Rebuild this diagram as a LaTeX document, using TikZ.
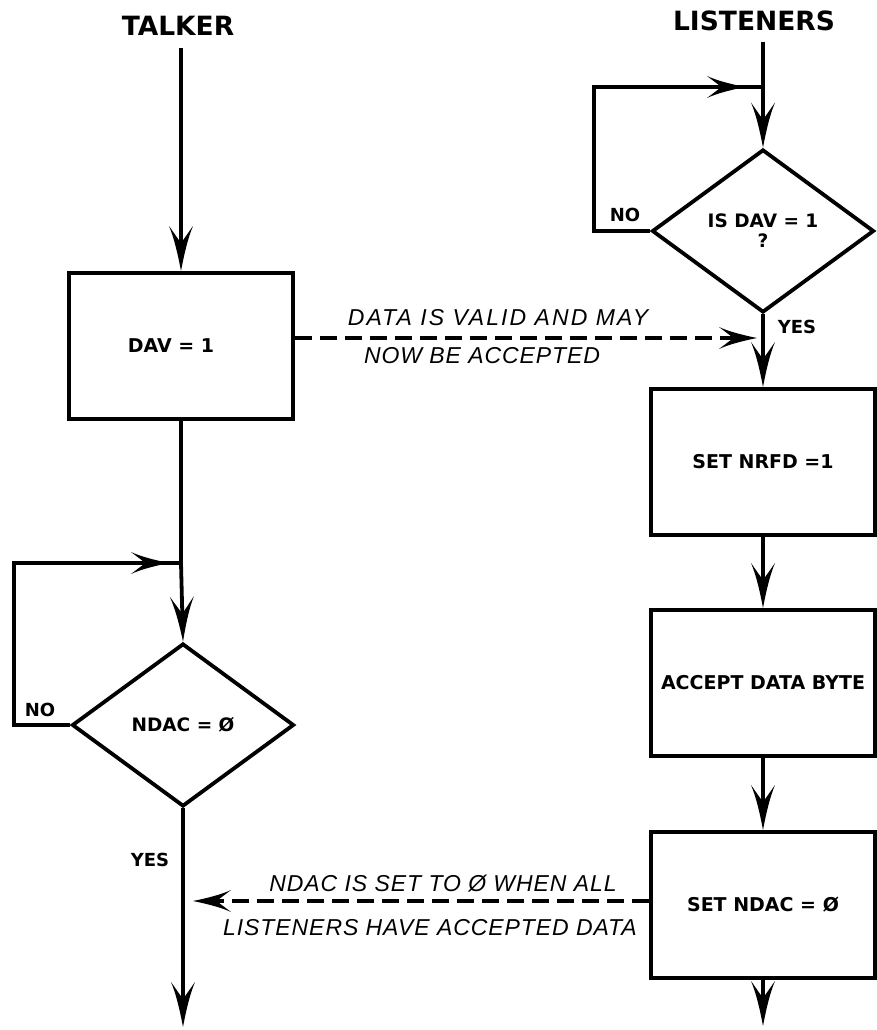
\documentclass[tikz,border=0pt]{standalone}
\usepackage{fontspec}
\usetikzlibrary{arrows.meta,shapes.geometric,decorations.markings}
\setmainfont{DejaVu Sans}
\newfontfamily\notefont{Liberation Sans}

% Long arrow head with concave flanks and a notched back
\pgfdeclarearrow{
  name = Spear,
  parameters = {\the\pgfarrowlength,\the\pgfarrowwidth},
  setup code = {
    \pgfarrowssettipend{0pt}
    \pgfarrowssetlineend{-.5\pgfarrowlength}
    \pgfarrowssetbackend{-\pgfarrowlength}
    \pgfarrowshullpoint{0pt}{0pt}
    \pgfarrowsupperhullpoint{-\pgfarrowlength}{.5\pgfarrowwidth}
    \pgfarrowssavethe\pgfarrowlength
    \pgfarrowssavethe\pgfarrowwidth
  },
  drawing code = {
    \pgfpathmoveto{\pgfpointorigin}
    \pgfpathcurveto{\pgfpoint{-.4\pgfarrowlength}{.14\pgfarrowwidth}}
                   {\pgfpoint{-.75\pgfarrowlength}{.3\pgfarrowwidth}}
                   {\pgfpoint{-\pgfarrowlength}{.5\pgfarrowwidth}}
    \pgfpathlineto{\pgfpoint{-.62\pgfarrowlength}{0pt}}
    \pgfpathlineto{\pgfpoint{-\pgfarrowlength}{-.5\pgfarrowwidth}}
    \pgfpathcurveto{\pgfpoint{-.75\pgfarrowlength}{-.3\pgfarrowwidth}}
                   {\pgfpoint{-.4\pgfarrowlength}{-.14\pgfarrowwidth}}
                   {\pgfpointorigin}
    \pgfpathclose
    \pgfusepathqfill
  },
  defaults = {length=45pt, width=24pt}
}

\tikzset{
  flow/.style={line width=3.8pt},
  tipped/.style={flow, -{Spear}},
  midtip/.style={flow, postaction={decorate},
    decoration={markings, mark=at position #1 with {\arrow{Spear[length=38pt,width=22pt]}}}},
  signal/.style={line width=3.8pt, dash pattern=on 17pt off 8pt, -{Spear[length=38pt,width=22pt]}},
  procbox/.style={draw, line width=4pt, minimum width=224pt, minimum height=146pt,
    inner sep=0pt, font=\bfseries\fontsize{19}{22}\selectfont},
  decision/.style={draw, diamond, line width=3.8pt, minimum width=222pt, minimum height=163pt,
    inner sep=0pt, align=center, font=\bfseries\fontsize{18.5}{20}\selectfont},
  heading/.style={font=\bfseries\fontsize{26.5}{30}\selectfont},
  tag/.style={font=\bfseries\fontsize{18}{20}\selectfont},
  note/.style={inner sep=0pt, font=\notefont\itshape\fontsize{23}{26}\selectfont\addfontfeature{LetterSpace=#1}},
  note/.default=4
}

\begin{document}
\begin{tikzpicture}[x=1pt, y=-1pt]
\useasboundingbox[fill=white] (0,0) rectangle (877,1030);

% column headings
\node[heading] (talker) at (178,26) {TALKER};
\node[heading] (listen) at (754,21) {LISTENERS};

% talker column
\coordinate (topL) at (181,48);
\node[procbox] (dav) at (181,346) {\hspace*{-20pt}DAV = 1};
\coordinate (jL) at (181,563);
\node[decision] (ndac) at (183,725) {NDAC = Ø};
\coordinate (loopLb) at (14,725);
\coordinate (loopLt) at (14,563);
\coordinate (endL) at (183,1027);
\coordinate (tipL) at (193,901);

% listener column
\coordinate (topR) at (763,42);
\coordinate (jR) at (763,87);
\node[decision] (isdav) at (763,231) {IS DAV = 1\\?};
\coordinate (loopRb) at (594,231);
\coordinate (loopRt) at (594,87);
\node[procbox] (nrfd) at (763,462) {SET NRFD =1};
\node[procbox] (accept) at (763,683) {ACCEPT DATA BYTE};
\node[procbox] (setndac) at (763,905) {SET NDAC = Ø};
\coordinate (endR) at (763,1026);
\coordinate (tipR) at (757,338);

% branch labels
\node[tag] (noL) at (40,710) {NO};
\node[tag] (yesL) at (150,860) {YES};
\node[tag] (noR) at (625,215) {NO};
\node[tag] (yesR) at (797,327) {YES};

% talker flow
\draw[tipped] (topL) -- (dav.north);
\draw[flow] (dav.south) -- (jL);
\draw[tipped] (jL) -- (ndac.north);
\draw[midtip=-12pt] (ndac.west) -- (loopLb) -- (loopLt) -- (jL);
\draw[tipped] (ndac.south) -- (endL);

% listener flow
\draw[flow] (topR) -- (jR);
\draw[tipped] (jR) -- (isdav.north);
\draw[midtip=-18pt] (isdav.west) -- (loopRb) -- (loopRt) -- (jR);
\draw[tipped] (isdav.south) -- (nrfd.north);
\draw[tipped] (nrfd.south) -- (accept.north);
\draw[tipped] (accept.south) -- (setndac.north);
\draw[tipped] (setndac.south) -- (endR);

% handshake signals between the two sides
\draw[signal] (dav.east |- tipR) -- (tipR);
\draw[signal] (setndac.west |- tipL) -- (tipL);

\node[note=9] (n1) at (498,318) {DATA IS VALID AND MAY};
\node[note] (n2) at (482,356) {NOW BE ACCEPTED};
\node[note] (n3) at (443,884) {NDAC IS SET TO Ø WHEN ALL};
\node[note] (n4) at (430,928) {LISTENERS HAVE ACCEPTED DATA};
\end{tikzpicture}
\end{document}
